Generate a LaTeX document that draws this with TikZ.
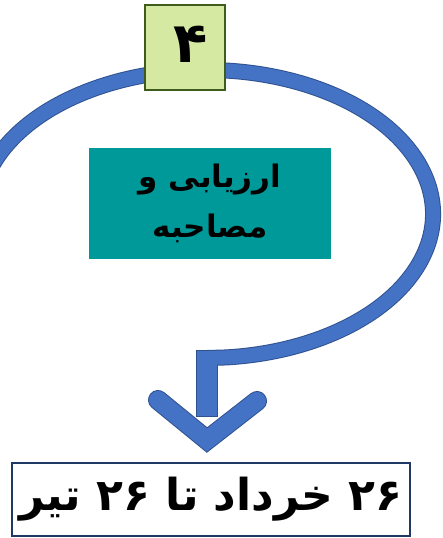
\documentclass[tikz,border=0pt]{standalone}
\usepackage{fontspec}
\newfontfamily\arabicfont[Script=Arabic]{DejaVu Sans}
\TeXXeTstate=1
\definecolor{bandfill}{HTML}{4472C4}
\definecolor{bandline}{HTML}{2F528F}
\definecolor{stepfill}{HTML}{D6E9A2}
\definecolor{stepline}{HTML}{3E5C1E}
\definecolor{taskfill}{HTML}{009999}
\definecolor{dateline}{HTML}{1F3864}
\begin{document}
\begin{tikzpicture}[x=1pt,y=-1pt]

      \useasboundingbox (0,0) rectangle (442,538);

      % the round arrow, border first and then the fill
      \draw[bandline,line width=16,line join=round]
        (206,214) ++(200:227 and 144) arc[start angle=200,end angle=445,x radius=227,y radius=144] -- (207,358);
      \draw[bandline,line width=22] (207,350) -- (207,417);
      \draw[bandline,line width=20,line cap=round] (158,400) -- (207,440) -- (257,401);
      \draw[bandfill,line width=14,line join=round]
        (206,214) ++(200:227 and 144) arc[start angle=200,end angle=445,x radius=227,y radius=144] -- (207,358);
      \draw[bandfill,line width=20] (207,351) -- (207,416);
      \draw[bandfill,line width=18,line cap=round] (158,400) -- (207,440) -- (257,401);

      \begin{scope}[every node/.style={inner sep=0pt}]
        \node[draw=stepline,line width=1.5,fill=stepfill,minimum width=80,minimum height=85] (step) at (185,47.5) {};
        \node[font=\arabicfont\bfseries\fontsize{56}{56}\selectfont] (num) at (191,44) {۴};
        \node[fill=taskfill,minimum width=242,minimum height=111,align=center,
              font=\arabicfont\bfseries\fontsize{31}{50}\selectfont] (task) at (210,203.5)
              {\beginR ارزیابی و\endR\\\beginR مصاحبه\endR};
        \node[draw=dateline,line width=2,fill=white,minimum width=398,minimum height=73,
              font=\arabicfont\bfseries\fontsize{44}{48}\selectfont] (date) at (211,499.5)
              {\beginR ۲۶ خرداد تا ۲۶ تیر\endR};
      \end{scope}

    \end{tikzpicture}
\end{document}
